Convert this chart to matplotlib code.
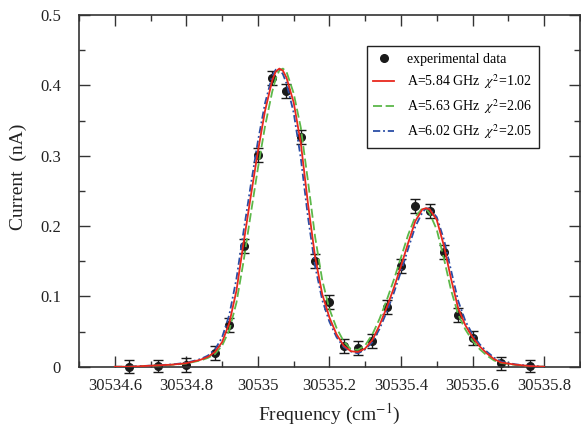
import matplotlib
matplotlib.use("Agg")
import matplotlib.pyplot as plt
from matplotlib.lines import Line2D
from matplotlib.ticker import MultipleLocator, FuncFormatter

plt.rcParams['font.family'] = ['Liberation Serif', 'DejaVu Serif']
plt.rcParams['mathtext.fontset'] = 'stix'

# experimental points (frequency in cm^-1, current in nA)
freq = [30534.64, 30534.72, 30534.80, 30534.88, 30534.92, 30534.96, 30535.00,
        30535.04, 30535.08, 30535.12, 30535.16, 30535.20, 30535.24, 30535.28,
        30535.32, 30535.36, 30535.40, 30535.44, 30535.48, 30535.52, 30535.56,
        30535.60, 30535.68, 30535.76]
current = [0.000, 0.001, 0.003, 0.019, 0.059, 0.172, 0.301,
           0.410, 0.392, 0.327, 0.150, 0.092, 0.029, 0.027,
           0.037, 0.085, 0.143, 0.228, 0.222, 0.163, 0.073,
           0.041, 0.005, 0.001]
current_err = [0.009, 0.008, 0.010, 0.010, 0.010, 0.010, 0.010,
               0.010, 0.010, 0.010, 0.010, 0.010, 0.010, 0.010,
               0.010, 0.010, 0.010, 0.010, 0.010, 0.010, 0.010,
               0.010, 0.009, 0.009]

# fitted profiles
fit_freq = [30534.60, 30534.64, 30534.68, 30534.72, 30534.76, 30534.80, 30534.84,
            30534.86, 30534.88, 30534.90, 30534.92, 30534.94, 30534.96, 30534.98,
            30535.00, 30535.02, 30535.04, 30535.05, 30535.06, 30535.07, 30535.08,
            30535.10, 30535.12,
            30535.14, 30535.16, 30535.18, 30535.20, 30535.22, 30535.24, 30535.26,
            30535.28, 30535.30, 30535.32, 30535.34, 30535.36, 30535.38, 30535.40,
            30535.42, 30535.44, 30535.46, 30535.47, 30535.48, 30535.50, 30535.52,
            30535.54, 30535.56, 30535.58, 30535.60, 30535.62, 30535.64, 30535.66,
            30535.68, 30535.72, 30535.76, 30535.80]
fit_584 = [0.000, 0.000, 0.001, 0.002, 0.003, 0.005, 0.010,
           0.014, 0.021, 0.035, 0.062, 0.108, 0.176, 0.242,
           0.306, 0.364, 0.407, 0.420, 0.424, 0.421, 0.411,
           0.376, 0.318,
           0.232, 0.156, 0.103, 0.070, 0.046, 0.030, 0.022,
           0.021, 0.026, 0.038, 0.059, 0.084, 0.112, 0.143,
           0.176, 0.207, 0.224, 0.2255, 0.224, 0.209, 0.172,
           0.125, 0.083, 0.059, 0.042, 0.029, 0.019, 0.011,
           0.006, 0.003, 0.001, 0.000]
fit_563 = [0.000, 0.000, 0.001, 0.0018, 0.0028, 0.0046, 0.009,
           0.0125, 0.018, 0.030, 0.052, 0.091, 0.150, 0.217,
           0.282, 0.342, 0.391, 0.410, 0.4215, 0.424, 0.4195,
           0.389, 0.340,
           0.264, 0.1845, 0.123, 0.082, 0.055, 0.036, 0.025,
           0.024, 0.0305, 0.046, 0.068, 0.0945, 0.1236, 0.1554,
           0.1876, 0.2134, 0.2254, 0.2244, 0.2184, 0.195, 0.154,
           0.109, 0.074, 0.053, 0.037, 0.025, 0.016, 0.009,
           0.0054, 0.0026, 0.0008, 0.000]
fit_602 = [0.000, 0.000, 0.0011, 0.0021, 0.0033, 0.0056, 0.011,
           0.0158, 0.0245, 0.0418, 0.0735, 0.125, 0.1925, 0.258,
           0.3205, 0.3748, 0.4135, 0.4225, 0.4235, 0.416, 0.403,
           0.3615, 0.2965,
           0.213, 0.1428, 0.0948, 0.064, 0.042, 0.028, 0.0218,
           0.019, 0.0248, 0.035, 0.0538, 0.0778, 0.105, 0.1353,
           0.1678, 0.1993, 0.2198, 0.2251, 0.2248, 0.2128, 0.181,
           0.137, 0.0935, 0.065, 0.046, 0.032, 0.0215, 0.013,
           0.0073, 0.0034, 0.0013, 0.000]

fig = plt.figure(figsize=(5.81, 4.33), dpi=100)
ax = fig.add_axes([0.136, 0.153, 0.862, 0.812])

ax.errorbar(freq, current, yerr=current_err, fmt='o', color='#1a1a1a', ms=5.5,
            elinewidth=1, capsize=3.6, capthick=1, zorder=2, clip_on=False)
l1, = ax.plot(fit_freq, fit_584, color='#e8281e', lw=1.3, zorder=4)
l2, = ax.plot(fit_freq, fit_563, color='#5cb84a', lw=1.3, ls=(0, (5, 2)), zorder=3)
l3, = ax.plot(fit_freq, fit_602, color='#2a4ea6', lw=1.3, ls=(0, (4, 1.6, 1, 1.6)), zorder=3)
dot = Line2D([], [], ls='none', marker='o', ms=5.5, color='#1a1a1a')

ax.set_xlim(30534.5, 30535.9)
ax.set_ylim(0, 0.5)
ax.xaxis.set_major_locator(MultipleLocator(0.2))
ax.xaxis.set_minor_locator(MultipleLocator(0.1))
ax.yaxis.set_major_locator(MultipleLocator(0.1))
ax.yaxis.set_minor_locator(MultipleLocator(0.05))
ax.xaxis.set_major_formatter(FuncFormatter(lambda v, p: '%g' % round(v, 1)))
ax.yaxis.set_major_formatter(FuncFormatter(lambda v, p: '%g' % round(v, 2)))

ax.tick_params(which='both', direction='in', top=True, right=True, color='#333333')
ax.tick_params(which='major', length=8, width=1)
ax.tick_params(which='minor', length=4, width=1)
ax.tick_params(axis='x', which='major', labelsize=12, pad=8, labelcolor='#222222')
ax.tick_params(axis='y', which='major', labelsize=12, pad=13, labelcolor='#222222')
for s in ax.spines.values():
    s.set_color('#333333')
    s.set_linewidth(1.2)

ax.set_xlabel('Frequency (cm$^{-1}$)', fontsize=14, labelpad=6, color='#222222')
ax.set_ylabel('Current  (nA)', fontsize=14, color='#222222')
ax.yaxis.set_label_coords(-0.104, 0.54)

leg = ax.legend([dot, l1, l2, l3],
                ['experimental data',
                 r'A=5.84 GHz  $\chi^2$=1.02',
                 r'A=5.63 GHz  $\chi^2$=2.06',
                 r'A=6.02 GHz  $\chi^2$=2.05'],
                loc='upper right', bbox_to_anchor=(0.918, 0.912), fontsize=10,
                frameon=True, fancybox=False, framealpha=1, edgecolor='#222222',
                handlelength=1.5, borderpad=0.5, labelspacing=0.45,
                handletextpad=0.9, borderaxespad=0)
leg.get_frame().set_linewidth(1)

fig.savefig('out.png', dpi=100)
